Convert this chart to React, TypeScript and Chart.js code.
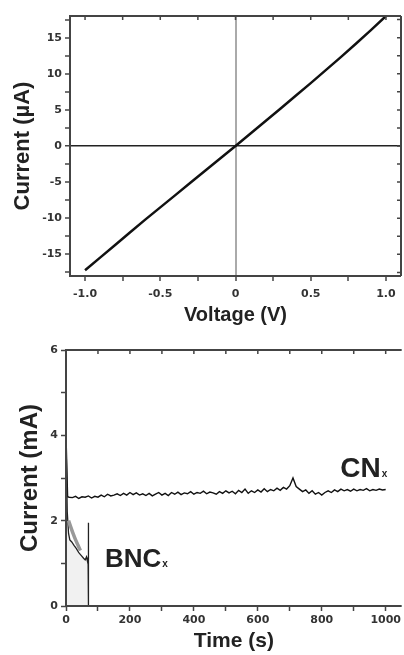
import React, { useEffect, useRef } from 'react';
import { Chart, registerables } from 'chart.js';

Chart.register(...registerables);

// ---- Top chart: I-V curve ----
const ivVoltage = [-1.0, -0.9, -0.8, -0.7, -0.6, -0.5, -0.4, -0.3, -0.2, -0.1, 0, 0.1, 0.2, 0.3, 0.4, 0.5, 0.6, 0.7, 0.8, 0.9, 1.0];
const ivCurrent = [-17.2, -15.45, -13.7, -11.95, -10.2, -8.5, -6.8, -5.1, -3.4, -1.7, 0, 1.72, 3.45, 5.2, 6.95, 8.7, 10.5, 12.3, 14.15, 16.05, 18.0];
const ivXLabel = 'Voltage (V)';
const ivYLabel = 'Current (\u00B5A)';

// ---- Bottom chart: current vs time ----
const cnTime = [0, 5, 10, 20, 30, 40, 50, 60, 70, 80, 90, 100, 110, 120, 130, 140, 150, 160, 170, 180, 190, 200, 210, 220, 230, 240, 250, 260, 270, 280, 290, 300, 310, 320, 330, 340, 350, 360, 370, 380, 390, 400, 410, 420, 430, 440, 450, 460, 470, 480, 490, 500, 510, 520, 530, 540, 550, 560, 570, 580, 590, 600, 610, 620, 630, 640, 650, 660, 670, 680, 690, 700, 710, 720, 730, 740, 750, 760, 770, 780, 790, 800, 810, 820, 830, 840, 850, 860, 870, 880, 890, 900, 910, 920, 930, 940, 950, 960, 970, 980, 990, 1000];
const cnCurrent = [4.0, 2.56, 2.55, 2.54, 2.57, 2.52, 2.56, 2.55, 2.58, 2.53, 2.57, 2.55, 2.6, 2.56, 2.62, 2.58, 2.6, 2.63, 2.59, 2.64, 2.6, 2.66, 2.61, 2.65, 2.6, 2.63, 2.59, 2.64, 2.58, 2.62, 2.66, 2.6, 2.64, 2.59, 2.66, 2.62, 2.67, 2.61, 2.65, 2.63, 2.68, 2.62, 2.66, 2.64, 2.69, 2.63, 2.67, 2.65, 2.62, 2.68, 2.64, 2.7, 2.65, 2.69, 2.63, 2.71, 2.66, 2.74, 2.64, 2.7, 2.66, 2.72, 2.67, 2.75, 2.68, 2.73, 2.7, 2.76, 2.71, 2.78, 2.74, 2.82, 3.0, 2.8, 2.74, 2.68, 2.72, 2.64, 2.7, 2.62, 2.66, 2.6, 2.66, 2.7, 2.66, 2.72, 2.68, 2.74, 2.7, 2.73, 2.69, 2.74, 2.7, 2.73, 2.71, 2.75, 2.7, 2.73, 2.71, 2.74, 2.72, 2.73];

const bncTime = [0, 4, 8, 12, 18, 25, 32, 40, 48, 55, 60, 64, 67, 69, 70, 70.5];
const bncCurrent = [4.0, 2.2, 1.7, 1.55, 1.5, 1.42, 1.35, 1.25, 1.18, 1.12, 1.08, 1.15, 1.05, 1.12, 1.95, 0];

const bncBandTime = [8, 15, 22, 30, 38, 45];
const bncBandCurrent = [2.0, 1.85, 1.7, 1.55, 1.42, 1.3];

const seriesLabelMain = ['CN', 'BNC'];
const seriesLabelSub = ['x', 'x'];
const seriesLabelTime = [858, 122];
const seriesLabelCurrent = [3.02, 0.91];
const seriesLabelSize = [28, 26];

const tdXLabel = 'Time (s)';
const tdYLabel = 'Current (mA)';

const pts = (xs: number[], ys: number[]) => xs.map((x, i) => ({ x, y: ys[i] }));
const isMult = (v: number, m: number) => Math.abs(v / m - Math.round(v / m)) < 1e-6;

const TICK_FONT = { family: '"DejaVu Sans", sans-serif', weight: 'bold' as const, size: 11 };
const FRAME = '#444';

const framePlugin = {
  id: 'frame',
  afterDraw(chart: any, _args: any, opts: any) {
    const { ctx, chartArea } = chart;
    const { left, right, top, bottom } = chartArea;
    const xs = chart.scales.x;
    const ys = chart.scales.y;
    ctx.save();
    ctx.strokeStyle = FRAME;
    ctx.lineWidth = 2;
    ctx.beginPath();
    ctx.moveTo(left, top);
    ctx.lineTo(right, top);
    if (opts.right) {
      ctx.moveTo(right, top);
      ctx.lineTo(right, bottom);
    }
    ctx.moveTo(left, top - 1);
    ctx.lineTo(left, bottom + 1);
    ctx.moveTo(left - 1, bottom);
    ctx.lineTo(right, bottom);
    ctx.stroke();
    ctx.lineWidth = 1.5;
    ctx.beginPath();
    for (const t of xs.ticks) {
      const px = xs.getPixelForValue(t.value);
      ctx.moveTo(px, top);
      ctx.lineTo(px, top + 4);
    }
    if (opts.right) {
      for (const t of ys.ticks) {
        const py = ys.getPixelForValue(t.value);
        ctx.moveTo(right, py);
        ctx.lineTo(right - 4, py);
      }
    }
    ctx.stroke();
    ctx.restore();
  },
};

const labelPlugin = {
  id: 'seriesLabels',
  afterDatasetsDraw(chart: any, _args: any, opts: any) {
    if (!opts.show) return;
    const { ctx } = chart;
    const xs = chart.scales.x;
    const ys = chart.scales.y;
    ctx.save();
    ctx.fillStyle = '#222';
    ctx.textAlign = 'left';
    ctx.textBaseline = 'alphabetic';
    seriesLabelMain.forEach((main, i) => {
      const px = xs.getPixelForValue(seriesLabelTime[i]);
      const py = ys.getPixelForValue(seriesLabelCurrent[i]);
      ctx.font = `bold ${seriesLabelSize[i]}px "Liberation Sans", Arial, sans-serif`;
      ctx.fillText(main, px, py);
      const w = ctx.measureText(main).width;
      ctx.font = 'bold 10px "Liberation Sans", Arial, sans-serif';
      ctx.fillText(seriesLabelSub[i], px + w + 1, py);
    });
    ctx.restore();
  },
};

function IVChart() {
  const ref = useRef<HTMLCanvasElement>(null);
  useEffect(() => {
    const chart = new Chart(ref.current!, {
      type: 'scatter',
      data: {
        datasets: [
          {
            data: pts(ivVoltage, ivCurrent),
            showLine: true,
            borderColor: '#111',
            borderWidth: 2.5,
            pointRadius: 0,
            tension: 0,
          },
        ],
      },
      plugins: [framePlugin],
      options: {
        animation: false,
        responsive: false,
        layout: { padding: { top: 16, right: 3, left: 0, bottom: 0 } },
        plugins: { legend: { display: false }, tooltip: { enabled: false }, frame: { right: true } } as any,
        scales: {
          x: {
            type: 'linear',
            min: -1.1,
            max: 1.1,
            afterFit: (s: any) => { s.height = 54; },
            border: { display: false },
            grid: {
              drawOnChartArea: true,
              color: (c: any) => (c.tick && c.tick.value === 0 ? '#aaa' : 'rgba(0,0,0,0)'),
              lineWidth: (c: any) => (c.tick && c.tick.value === 0 ? 2 : 0),
              tickColor: FRAME,
              tickWidth: 1.5,
              tickLength: 5,
            },
            ticks: {
              stepSize: 0.25,
              includeBounds: false,
              autoSkip: false,
              maxRotation: 0,
              padding: 7,
              color: '#333',
              font: TICK_FONT,
              callback: (v: any) => (isMult(v, 0.5) ? (Math.abs(v) < 1e-9 ? '0' : Number(v).toFixed(1)) : ''),
            },
            title: {
              display: true,
              text: ivXLabel,
              color: '#222',
              font: { family: '"Liberation Sans", Arial, sans-serif', weight: 'bold', size: 20 },
              padding: { top: 0, bottom: 3 },
            },
          },
          y: {
            type: 'linear',
            min: -18,
            max: 18,
            afterFit: (s: any) => { s.width = 70; },
            border: { display: false },
            grid: {
              drawOnChartArea: true,
              color: (c: any) => (c.tick && c.tick.value === 0 ? '#222' : 'rgba(0,0,0,0)'),
              lineWidth: (c: any) => (c.tick && c.tick.value === 0 ? 1.5 : 0),
              tickColor: FRAME,
              tickWidth: 1.5,
              tickLength: 5,
            },
            ticks: {
              stepSize: 2.5,
              includeBounds: false,
              autoSkip: false,
              padding: 3,
              color: '#333',
              font: TICK_FONT,
              callback: (v: any) => (isMult(v, 5) ? String(v) : ''),
            },
            title: {
              display: true,
              text: ivYLabel,
              color: '#222',
              font: { family: '"Liberation Sans", Arial, sans-serif', weight: 'bold', size: 22 },
              padding: { top: 10, bottom: 0 },
            },
          },
        },
      },
    } as any);
    return () => chart.destroy();
  }, []);
  return <canvas ref={ref} width={404} height={330} style={{ position: 'absolute', left: 0, top: 0, width: 404, height: 330 }} />;
}

function TimeChart() {
  const ref = useRef<HTMLCanvasElement>(null);
  useEffect(() => {
    const chart = new Chart(ref.current!, {
      type: 'scatter',
      data: {
        datasets: [
          {
            data: pts(bncBandTime, bncBandCurrent),
            showLine: true,
            borderColor: '#999',
            borderWidth: 3.5,
            pointRadius: 0,
            tension: 0.3,
          },
          {
            data: pts(bncTime, bncCurrent),
            showLine: true,
            borderColor: '#222',
            borderWidth: 1.3,
            backgroundColor: '#f1f1f1',
            fill: 'origin',
            pointRadius: 0,
            tension: 0,
          },
          {
            data: pts(cnTime, cnCurrent),
            showLine: true,
            borderColor: '#111',
            borderWidth: 1.4,
            pointRadius: 0,
            tension: 0,
          },
        ],
      },
      plugins: [labelPlugin, framePlugin],
      options: {
        animation: false,
        responsive: false,
        layout: { padding: { top: 20, right: 0, left: 0, bottom: 0 } },
        plugins: {
          legend: { display: false },
          tooltip: { enabled: false },
          filler: { propagate: false },
          frame: { right: false },
          seriesLabels: { show: true },
        } as any,
        scales: {
          x: {
            type: 'linear',
            min: 0,
            max: 1050,
            afterFit: (s: any) => { s.height = 49; },
            border: { display: false },
            grid: {
              drawOnChartArea: false,
              tickColor: FRAME,
              tickWidth: 1.5,
              tickLength: 5,
            },
            ticks: {
              stepSize: 100,
              includeBounds: false,
              autoSkip: false,
              maxRotation: 0,
              padding: 3,
              color: '#333',
              font: TICK_FONT,
              callback: (v: any) => (isMult(v, 200) ? String(v) : ''),
            },
            title: {
              display: true,
              text: tdXLabel,
              color: '#222',
              font: { family: '"Liberation Sans", Arial, sans-serif', weight: 'bold', size: 21 },
              padding: { top: 0, bottom: 1 },
            },
          },
          y: {
            type: 'linear',
            min: 0,
            max: 6,
            afterFit: (s: any) => { s.width = 66; },
            border: { display: false },
            grid: {
              drawOnChartArea: false,
              tickColor: FRAME,
              tickWidth: 1.5,
              tickLength: 5,
            },
            ticks: {
              stepSize: 1,
              autoSkip: false,
              padding: 3,
              color: '#333',
              font: TICK_FONT,
              callback: (v: any) => (isMult(v, 2) ? String(v) : ''),
            },
            title: {
              display: true,
              text: tdYLabel,
              color: '#222',
              font: { family: '"Liberation Sans", Arial, sans-serif', weight: 'bold', size: 24 },
              padding: { top: 16, bottom: 0 },
            },
          },
        },
      },
    } as any);
    return () => chart.destroy();
  }, []);
  return <canvas ref={ref} width={404} height={325} style={{ position: 'absolute', left: 0, top: 330, width: 404, height: 325 }} />;
}

export default function App() {
  return (
    <div style={{ position: 'absolute', left: 0, top: 0, width: 404, height: 655, background: '#fff', overflow: 'hidden' }}>
      <IVChart />
      <TimeChart />
    </div>
  );
}
